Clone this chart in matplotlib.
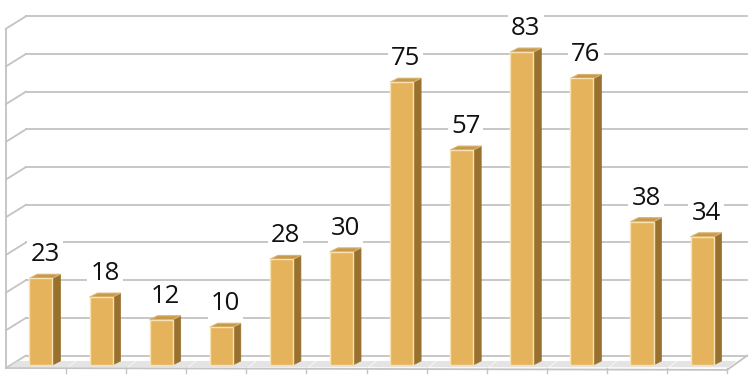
import matplotlib
matplotlib.use("Agg")
import matplotlib.pyplot as plt
from matplotlib.patches import Polygon

categories = list(range(1, 13))
values = [23, 18, 12, 10, 28, 30, 75, 57, 83, 76, 38, 34]
grid_values = [0, 10, 20, 30, 40, 50, 60, 70, 80, 90]

fig = plt.figure(figsize=(7.55, 3.75), dpi=100)
ax = fig.add_axes([0, 0, 1, 1])
ax.set_xlim(-0.599, 11.963)
ax.set_ylim(-1.857, 97.61)
ax.axis("off")

grid_c = "#C3C3C3"
# wall depth offset (category units, value units)
WX, WY = 0.333, 3.3
n = len(values)
left, right = -0.5, n - 0.5

# back wall gridlines + left wall slants
for g in grid_values:
    ax.plot([left + WX, right + WX], [g + WY, g + WY], color=grid_c, lw=1.3, zorder=1)
    ax.plot([left, left + WX], [g, g + WY], color=grid_c, lw=1.3, zorder=1)
# left front axis
ax.plot([left, left], [0, grid_values[-1]], color=grid_c, lw=1.3, zorder=1)
# floor front edge and right edge
ax.plot([left, right], [0, -0.5], color=grid_c, lw=1.3, zorder=1)
ax.plot([right, right + WX], [-0.5, WY], color=grid_c, lw=1.3, zorder=1)
# category ticks at floor front edge
for k in range(n):
    xb = left + k + 1
    ax.plot([xb, xb], [0, -1.2], color=grid_c, lw=1.0, zorder=1)

# bars
BW = 0.383
OX, OY = 0.083, 0.8     # bar offset from front plane
DX, DY = 0.133, 1.06    # bar depth
front_c = "#E5B35B"
side_c = "#98712F"
top_c = "#C8994B"
edge_c = "#F6E2B4"

for i, v in enumerate(values):
    x0 = i - BW / 2 + OX
    x1 = x0 + BW
    y0 = OY
    y1 = OY + v
    # floor shadow
    sh = Polygon([(x0 - 0.35, y0 - 0.6), (x1 + 0.25, y0 - 0.6),
                  (x1 + 0.25 + DX, y0 + DY), (x0 - 0.35 + DX, y0 + DY)],
                 closed=True, facecolor="#D9D9D9", edgecolor="none", alpha=0.7, zorder=2)
    ax.add_patch(sh)
    # side
    ax.add_patch(Polygon([(x1, y0), (x1 + DX, y0 + DY), (x1 + DX, y1 + DY), (x1, y1)],
                         closed=True, facecolor=side_c, edgecolor=side_c, lw=0.5, zorder=3))
    # top
    ax.add_patch(Polygon([(x0, y1), (x1, y1), (x1 + DX, y1 + DY), (x0 + DX, y1 + DY)],
                         closed=True, facecolor=top_c, edgecolor="#D9B270", lw=0.8, zorder=3))
    # front
    ax.add_patch(Polygon([(x0, y0), (x1, y0), (x1, y1), (x0, y1)],
                         closed=True, facecolor=front_c, edgecolor=edge_c, lw=1.0, zorder=4))
    ax.text(i + OX + DX / 2, y1 + 4.5, str(v), ha="center", va="baseline",
            fontsize=18.5, family=["Open Sans", "DejaVu Sans"], color="#111111", zorder=5,
            bbox=dict(boxstyle="square,pad=0.12", facecolor="white", edgecolor="none"))

fig.savefig("out.png", dpi=100, facecolor="white")
